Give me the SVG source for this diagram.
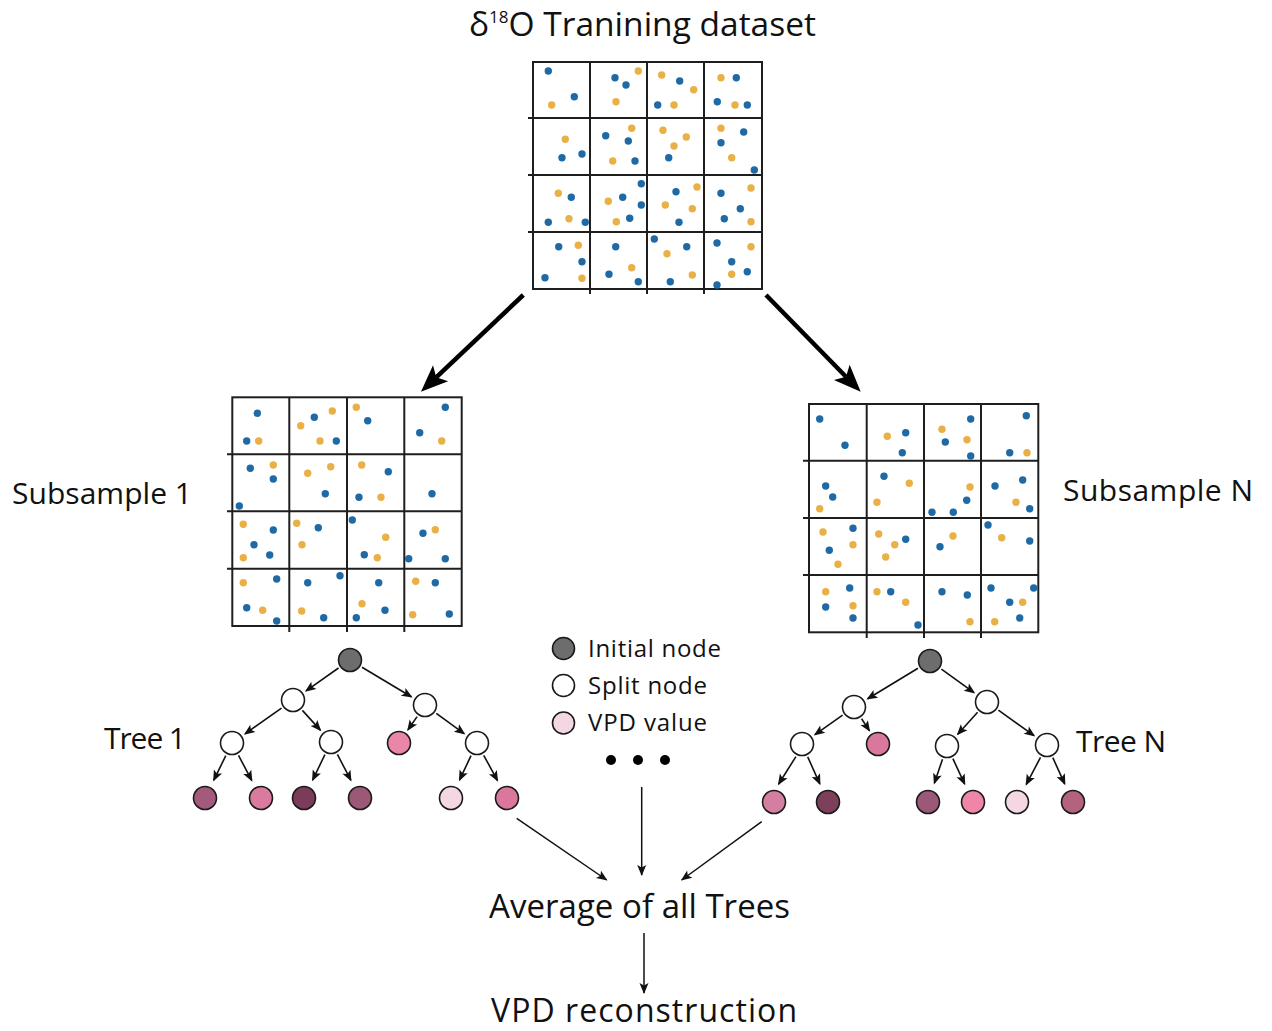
<svg xmlns="http://www.w3.org/2000/svg" width="1272" height="1031" viewBox="0 0 1272 1031">
<style>
.t{font-family:"Open Sans","Noto Sans","DejaVu Sans",sans-serif;fill:#111}
.grid{fill:none;stroke:#1e1e1e;stroke-width:2}
.b{fill:#1f6aa5}
.o{fill:#e9b045}
.b circle,.o circle{r:3.7px}
.n{stroke:#1a1a1a;stroke-width:1.6}
.e{stroke:#111;stroke-width:1.6;fill:none;marker-end:url(#ah)}
.big{stroke:#000;stroke-width:4.5;fill:none;marker-end:url(#bh)}
.c{stroke:#111;stroke-width:1.5;fill:none;marker-end:url(#ah2)}
</style>
<defs>
<marker id="ah" markerUnits="userSpaceOnUse" markerWidth="12" markerHeight="10" refX="9.5" refY="4.5" orient="auto" overflow="visible"><path d="M0,0 L11,4.5 L0,9 L2.4,4.5 Z" fill="#111"/></marker>
<marker id="ah2" markerUnits="userSpaceOnUse" markerWidth="12" markerHeight="10" refX="10" refY="4.5" orient="auto" overflow="visible"><path d="M0,0 L11,4.5 L0,9 L2.5,4.5 Z" fill="#111"/></marker>
<marker id="bh" markerUnits="userSpaceOnUse" markerWidth="28" markerHeight="24" refX="6" refY="11" orient="auto" overflow="visible"><path d="M0,0 L27,11 L0,22 L6,11 Z" fill="#000"/></marker>
</defs>
<rect width="1272" height="1031" fill="#fff"/>

<g id="title">
<text class="t" x="469" y="36" font-size="33.5">δ<tspan font-size="17" dy="-13">18</tspan><tspan dy="13">O Tranining dataset</tspan></text>
</g>

<g id="dataset">
<rect class="grid" x="533" y="62" width="229" height="227"/>
<path class="grid" d="M590,62V294M647,62V294M704,62V294M528,118H762M528,175H762M528,232H762"/>
<g class="b">
<circle cx="548.3" cy="71" r="3.4"/><circle cx="574.3" cy="96.7" r="3.4"/>
<circle cx="615" cy="77.7" r="3.4"/><circle cx="626" cy="85" r="3.4"/>
<circle cx="679.7" cy="81" r="3.4"/><circle cx="657.7" cy="105" r="3.4"/>
<circle cx="736.3" cy="77.7" r="3.4"/><circle cx="717.3" cy="101.7" r="3.4"/><circle cx="747.3" cy="105" r="3.4"/>
<circle cx="562" cy="157.7" r="3.4"/><circle cx="582" cy="154" r="3.4"/>
<circle cx="605.7" cy="135.7" r="3.4"/><circle cx="628.3" cy="141" r="3.4"/><circle cx="635" cy="161" r="3.4"/>
<circle cx="668.7" cy="157.7" r="3.4"/>
<circle cx="743.7" cy="132" r="3.4"/><circle cx="721" cy="142.7" r="3.4"/><circle cx="754.3" cy="170" r="3.4"/>
<circle cx="571.3" cy="197.3" r="3.4"/><circle cx="548.3" cy="222.3" r="3.4"/><circle cx="585.3" cy="222.3" r="3.4"/>
<circle cx="641.3" cy="183.7" r="3.4"/><circle cx="622.7" cy="197.3" r="3.4"/><circle cx="641.3" cy="205" r="3.4"/><circle cx="629.7" cy="218.3" r="3.4"/>
<circle cx="676" cy="191.7" r="3.4"/><circle cx="679" cy="222.3" r="3.4"/>
<circle cx="721" cy="193.3" r="3.4"/><circle cx="740.3" cy="208.7" r="3.4"/><circle cx="724.3" cy="218.7" r="3.4"/>
<circle cx="558.7" cy="246.7" r="3.4"/><circle cx="582" cy="261.7" r="3.4"/><circle cx="545" cy="277.7" r="3.4"/>
<circle cx="615.7" cy="246.7" r="3.4"/><circle cx="609" cy="274.3" r="3.4"/><circle cx="638.3" cy="281.7" r="3.4"/>
<circle cx="654.3" cy="239" r="3.4"/><circle cx="686.7" cy="246.7" r="3.4"/><circle cx="670.3" cy="281.7" r="3.4"/>
<circle cx="717" cy="243" r="3.4"/><circle cx="731.7" cy="261.7" r="3.4"/><circle cx="747.3" cy="271.7" r="3.4"/><circle cx="717" cy="285" r="3.4"/>
</g>
<g class="o">
<circle cx="551.7" cy="105" r="3.4"/>
<circle cx="638.3" cy="71" r="3.4"/><circle cx="616" cy="101.7" r="3.4"/>
<circle cx="661.7" cy="75" r="3.4"/><circle cx="693.7" cy="89.7" r="3.4"/><circle cx="674" cy="105" r="3.4"/>
<circle cx="721" cy="77.7" r="3.4"/><circle cx="735" cy="105" r="3.4"/>
<circle cx="565.3" cy="139.3" r="3.4"/>
<circle cx="631.7" cy="128.3" r="3.4"/><circle cx="612.7" cy="161" r="3.4"/>
<circle cx="663" cy="130.3" r="3.4"/><circle cx="686.3" cy="137" r="3.4"/><circle cx="674" cy="146" r="3.4"/>
<circle cx="721" cy="128.3" r="3.4"/><circle cx="731.7" cy="157.7" r="3.4"/>
<circle cx="558.3" cy="193.3" r="3.4"/><circle cx="569" cy="218.7" r="3.4"/>
<circle cx="608.3" cy="201.3" r="3.4"/><circle cx="616.3" cy="221.7" r="3.4"/>
<circle cx="697" cy="187" r="3.4"/><circle cx="665.3" cy="205" r="3.4"/><circle cx="692.3" cy="208.7" r="3.4"/>
<circle cx="751" cy="188" r="3.4"/><circle cx="751" cy="221.7" r="3.4"/>
<circle cx="578.3" cy="245.3" r="3.4"/><circle cx="582" cy="278.3" r="3.4"/>
<circle cx="631.7" cy="267.7" r="3.4"/>
<circle cx="667" cy="253.7" r="3.4"/><circle cx="692.3" cy="275" r="3.4"/>
<circle cx="751" cy="246.7" r="3.4"/><circle cx="731.7" cy="274.3" r="3.4"/>
</g>
</g>

<g id="subsample1">
<rect class="grid" x="232.3" y="397.3" width="229.4" height="228.7"/>
<path class="grid" d="M289.3,397.3V632M347,397.3V632M404.3,397.3V632M227,454.3H461.7M227,511.3H461.7M227,568.7H461.7"/>
<g class="b">
<circle cx="257.3" cy="413.3" r="3.4"/><circle cx="246.7" cy="441" r="3.4"/>
<circle cx="314.3" cy="417.3" r="3.4"/><circle cx="336.3" cy="441" r="3.4"/>
<circle cx="367.7" cy="420.7" r="3.4"/>
<circle cx="445.3" cy="407.3" r="3.4"/><circle cx="419.7" cy="432.7" r="3.4"/>
<circle cx="250.3" cy="468.3" r="3.4"/><circle cx="273.3" cy="479" r="3.4"/><circle cx="239.3" cy="506" r="3.4"/>
<circle cx="325.3" cy="493.7" r="3.4"/>
<circle cx="388.3" cy="471.7" r="3.4"/><circle cx="359" cy="497.3" r="3.4"/>
<circle cx="432" cy="493.7" r="3.4"/>
<circle cx="273.3" cy="530" r="3.4"/><circle cx="254" cy="544.7" r="3.4"/><circle cx="269.7" cy="555" r="3.4"/>
<circle cx="318.3" cy="527.7" r="3.4"/>
<circle cx="352.3" cy="520" r="3.4"/><circle cx="364.3" cy="554.7" r="3.4"/>
<circle cx="423" cy="533.3" r="3.4"/><circle cx="408.7" cy="558.7" r="3.4"/><circle cx="445.3" cy="558.7" r="3.4"/>
<circle cx="276.7" cy="579" r="3.4"/><circle cx="246.7" cy="607.7" r="3.4"/><circle cx="276.7" cy="621" r="3.4"/>
<circle cx="307.7" cy="582.7" r="3.4"/><circle cx="340" cy="575.7" r="3.4"/><circle cx="323.7" cy="617.7" r="3.4"/>
<circle cx="378.7" cy="582.7" r="3.4"/><circle cx="385" cy="610.3" r="3.4"/><circle cx="356.3" cy="617.7" r="3.4"/>
<circle cx="435.3" cy="582.7" r="3.4"/><circle cx="449.3" cy="614" r="3.4"/>
</g>
<g class="o">
<circle cx="258.7" cy="441" r="3.4"/>
<circle cx="332.3" cy="411" r="3.4"/><circle cx="300.7" cy="425.7" r="3.4"/><circle cx="320" cy="441" r="3.4"/>
<circle cx="356.3" cy="407.3" r="3.4"/>
<circle cx="441.7" cy="441" r="3.4"/>
<circle cx="273.3" cy="465" r="3.4"/>
<circle cx="330.7" cy="466.7" r="3.4"/><circle cx="307.7" cy="473.3" r="3.4"/>
<circle cx="361.7" cy="465" r="3.4"/><circle cx="381" cy="497.3" r="3.4"/>
<circle cx="243.3" cy="524.3" r="3.4"/><circle cx="243.3" cy="557.7" r="3.4"/>
<circle cx="296.7" cy="523.3" r="3.4"/><circle cx="302" cy="544.7" r="3.4"/>
<circle cx="385.7" cy="537.3" r="3.4"/><circle cx="377.3" cy="557.7" r="3.4"/>
<circle cx="435.3" cy="529.7" r="3.4"/>
<circle cx="243.3" cy="582.7" r="3.4"/><circle cx="262.7" cy="610.3" r="3.4"/>
<circle cx="301.7" cy="611" r="3.4"/>
<circle cx="362" cy="603.7" r="3.4"/>
<circle cx="415.7" cy="581.3" r="3.4"/><circle cx="412.7" cy="614.7" r="3.4"/>
</g>
</g>

<g id="subsampleN">
<rect class="grid" x="809" y="404" width="229.3" height="228.3"/>
<path class="grid" d="M866.7,404V638M924,404V638M981,404V638M803,460.7H1038.3M803,518H1038.3M803,575H1038.3"/>
<g class="b">
<circle cx="819.7" cy="419" r="3.4"/><circle cx="845" cy="445.3" r="3.4"/>
<circle cx="905.7" cy="432.7" r="3.4"/><circle cx="902.3" cy="452.7" r="3.4"/>
<circle cx="970.7" cy="419" r="3.4"/><circle cx="945.3" cy="442" r="3.4"/><circle cx="970.7" cy="456" r="3.4"/>
<circle cx="1026.3" cy="415.7" r="3.4"/><circle cx="1009.7" cy="452.7" r="3.4"/>
<circle cx="825.7" cy="486" r="3.4"/><circle cx="832.7" cy="497" r="3.4"/>
<circle cx="884" cy="476.3" r="3.4"/>
<circle cx="966.7" cy="500.3" r="3.4"/><circle cx="932" cy="512.3" r="3.4"/><circle cx="953.3" cy="512.3" r="3.4"/>
<circle cx="995" cy="486" r="3.4"/><circle cx="1022.7" cy="480" r="3.4"/><circle cx="1029.7" cy="508.7" r="3.4"/>
<circle cx="853" cy="528.3" r="3.4"/><circle cx="829.3" cy="550.3" r="3.4"/>
<circle cx="905.7" cy="539.3" r="3.4"/>
<circle cx="940" cy="546.7" r="3.4"/>
<circle cx="988" cy="525" r="3.4"/><circle cx="1029.7" cy="541" r="3.4"/>
<circle cx="849.7" cy="588" r="3.4"/><circle cx="825.7" cy="607" r="3.4"/><circle cx="853" cy="618" r="3.4"/>
<circle cx="890.7" cy="591.7" r="3.4"/><circle cx="918" cy="625" r="3.4"/>
<circle cx="942" cy="591.7" r="3.4"/><circle cx="967.3" cy="595" r="3.4"/>
<circle cx="991" cy="588" r="3.4"/><circle cx="1033.7" cy="588" r="3.4"/><circle cx="1009.7" cy="602.3" r="3.4"/><circle cx="1019.7" cy="618" r="3.4"/>
</g>
<g class="o">
<circle cx="887.3" cy="436.3" r="3.4"/>
<circle cx="942" cy="429.3" r="3.4"/><circle cx="967" cy="439.7" r="3.4"/>
<circle cx="1027" cy="452.7" r="3.4"/>
<circle cx="819.7" cy="508.7" r="3.4"/>
<circle cx="909.3" cy="483.3" r="3.4"/><circle cx="877" cy="502.3" r="3.4"/>
<circle cx="970" cy="487" r="3.4"/>
<circle cx="1016" cy="502.3" r="3.4"/>
<circle cx="823" cy="532" r="3.4"/><circle cx="853" cy="544.7" r="3.4"/><circle cx="838" cy="564.3" r="3.4"/>
<circle cx="878.7" cy="534" r="3.4"/><circle cx="894.7" cy="544.7" r="3.4"/><circle cx="885.7" cy="557" r="3.4"/>
<circle cx="953" cy="536" r="3.4"/>
<circle cx="1001.7" cy="537.7" r="3.4"/>
<circle cx="825.7" cy="591.7" r="3.4"/><circle cx="853" cy="605.7" r="3.4"/>
<circle cx="877" cy="591.7" r="3.4"/><circle cx="905.7" cy="602.3" r="3.4"/>
<circle cx="970" cy="621.7" r="3.4"/>
<circle cx="1022.7" cy="602.3" r="3.4"/><circle cx="994.7" cy="621.7" r="3.4"/>
</g>
</g>

<g id="labels">
<text class="t" x="12" y="504" font-size="30" textLength="180">Subsample 1</text>
<text class="t" x="1063" y="501" font-size="30" textLength="190">Subsample N</text>
<text class="t" x="104" y="749" font-size="30" textLength="82">Tree 1</text>
<text class="t" x="1076" y="752" font-size="30" textLength="90">Tree N</text>
</g>

<g id="legend">
<g id="legend-initial"><circle class="n" cx="563.5" cy="648.5" r="11" fill="#6d6d6d"/><text class="t" x="588" y="657" font-size="24" textLength="133">Initial node</text></g>
<g id="legend-split"><circle class="n" cx="563.5" cy="685.5" r="11" fill="#fff"/><text class="t" x="588" y="694" font-size="24" textLength="119">Split node</text></g>
<g id="legend-vpd"><circle class="n" cx="563.5" cy="723" r="11" fill="#f3d7e3"/><text class="t" x="588" y="731" font-size="24" textLength="119">VPD value</text></g>
<g id="ellipsis" fill="#000"><circle cx="611" cy="760" r="5"/><circle cx="638" cy="760" r="5"/><circle cx="665" cy="760" r="5"/></g>
</g>

<g id="tree1">
<g id="t1-root"><circle class="n" cx="350" cy="660" r="11.5" fill="#6d6d6d"/></g>
<g id="t1-a"><circle class="n" cx="293" cy="700" r="11.5" fill="#fff"/></g>
<g id="t1-b"><circle class="n" cx="425" cy="705" r="11.5" fill="#fff"/></g>
<g id="t1-a1"><circle class="n" cx="232" cy="743" r="11.5" fill="#fff"/></g>
<g id="t1-a2"><circle class="n" cx="331" cy="742" r="11.5" fill="#fff"/></g>
<g id="t1-b1"><circle class="n" cx="399" cy="743" r="11.5" fill="#ea86a8"/></g>
<g id="t1-b2"><circle class="n" cx="477" cy="743" r="11.5" fill="#fff"/></g>
<g id="t1-l1"><circle class="n" cx="205" cy="798" r="11.5" fill="#a35a7d"/></g>
<g id="t1-l2"><circle class="n" cx="261" cy="798" r="11.5" fill="#da7a9f"/></g>
<g id="t1-l3"><circle class="n" cx="304" cy="798" r="11.5" fill="#7b3c59"/></g>
<g id="t1-l4"><circle class="n" cx="360" cy="798" r="11.5" fill="#9c5877"/></g>
<g id="t1-l5"><circle class="n" cx="451" cy="798" r="11.5" fill="#f3d7e3"/></g>
<g id="t1-l6"><circle class="n" cx="507" cy="798" r="11.5" fill="#d9789c"/></g>
</g>

<g id="treeN">
<g id="tN-root"><circle class="n" cx="930" cy="661" r="11.5" fill="#6d6d6d"/></g>
<g id="tN-c"><circle class="n" cx="854" cy="707" r="11.5" fill="#fff"/></g>
<g id="tN-d"><circle class="n" cx="987" cy="702" r="11.5" fill="#fff"/></g>
<g id="tN-c1"><circle class="n" cx="802" cy="744" r="11.5" fill="#fff"/></g>
<g id="tN-c2"><circle class="n" cx="878" cy="744" r="11.5" fill="#d9789c"/></g>
<g id="tN-d1"><circle class="n" cx="947" cy="746" r="11.5" fill="#fff"/></g>
<g id="tN-d2"><circle class="n" cx="1047" cy="745" r="11.5" fill="#fff"/></g>
<g id="tN-l1"><circle class="n" cx="774" cy="802" r="11.5" fill="#d47fa2"/></g>
<g id="tN-l2"><circle class="n" cx="828" cy="802" r="11.5" fill="#7e3f5b"/></g>
<g id="tN-l3"><circle class="n" cx="928" cy="802" r="11.5" fill="#9c5877"/></g>
<g id="tN-l4"><circle class="n" cx="973" cy="802" r="11.5" fill="#ef86a8"/></g>
<g id="tN-l5"><circle class="n" cx="1017" cy="802" r="11.5" fill="#f3d7e3"/></g>
<g id="tN-l6"><circle class="n" cx="1073" cy="802" r="11.5" fill="#b3627f"/></g>
</g>

<g id="average"><text class="t" x="489" y="918" font-size="33" textLength="301">Average of all Trees</text></g>
<g id="reconstruction"><text class="t" x="491" y="1022" font-size="32" textLength="306">VPD reconstruction</text></g>

<g id="connectors">
<path class="big" d="M523.3,295 L436.2,377.3"/>
<path class="big" d="M766,295 L846,376.7"/>
<path class="e" d="M338.5,668 L306.1,690.8"/>
<path class="e" d="M362,667.2 L411.3,696.8"/>
<path class="e" d="M281.5,708.1 L245.1,733.8"/>
<path class="e" d="M302.4,710.4 L320.3,730.1"/>
<path class="e" d="M417.1,716.6 L408,729.8"/>
<path class="e" d="M436.3,713.3 L464.1,733.6"/>
<path class="e" d="M225.8,755.6 L213.8,780.1"/>
<path class="e" d="M238.5,755.4 L251.7,780.3"/>
<path class="e" d="M324.9,754.6 L312.7,780"/>
<path class="e" d="M337.4,754.4 L350.8,780.2"/>
<path class="e" d="M471,755.7 L459.6,779.9"/>
<path class="e" d="M483.7,755.3 L497.4,780.4"/>
<path class="e" d="M918,668.3 L867.7,698.7"/>
<path class="e" d="M941.4,669.2 L974,692.7"/>
<path class="e" d="M842.6,715.1 L815,734.7"/>
<path class="e" d="M861.6,718.7 L869.3,730.6"/>
<path class="e" d="M977.6,712.3 L957.8,734.2"/>
<path class="e" d="M998.4,710.2 L1034,735.7"/>
<path class="e" d="M795.9,756.6 L778.7,784"/>
<path class="e" d="M807.7,756.8 L819.8,783.8"/>
<path class="e" d="M942.5,759.3 L934.4,783.1"/>
<path class="e" d="M952.9,758.7 L964.6,783.9"/>
<path class="e" d="M1040.5,757.4 L1026.3,784.3"/>
<path class="e" d="M1052.8,757.7 L1064.7,783.8"/>
<path class="c" d="M516.7,818.3 L606.7,880"/>
<path class="c" d="M641.7,787 L641.7,875"/>
<path class="c" d="M761.7,821.7 L681.7,880"/>
<path class="c" d="M644,933 L644,993"/>
</g>
</svg>
